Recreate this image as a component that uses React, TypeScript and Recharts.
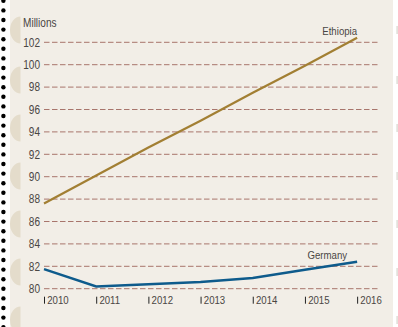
import React from 'react';
import { LineChart, Line, XAxis, YAxis, CartesianGrid } from 'recharts';

const years = [2010, 2011, 2012, 2013, 2014, 2015, 2016];
const ethiopia = [87.6, 90.1, 92.6, 95.0, 97.5, 99.9, 102.4];
const germany = [81.75, 80.2, 80.4, 80.6, 80.95, 81.7, 82.4];
const yTicks = [80, 82, 84, 86, 88, 90, 92, 94, 96, 98, 100, 102];
const seriesNames = ['Ethiopia', 'Germany'];
const unitLabel = 'Millions';

const data = years.map((y, i) => ({ year: y, Ethiopia: ethiopia[i], Germany: germany[i] }));

const FONT = "'Liberation Sans', Arial, sans-serif";
const TEXT = '#4a4644';
const SX = 0.84;

const NText = ({ x, y, anchor = 'start', size = 12, children }: any) => (
  <text
    transform={`translate(${x} ${y}) scale(${SX} 1)`}
    textAnchor={anchor}
    fontFamily={FONT}
    fontSize={size}
    fill={TEXT}
  >
    {children}
  </text>
);

const YTick = (p: any) => (
  <NText x={p.x - 4} y={p.y + 4.2} anchor="end" size={12}>
    {p.payload.value}
  </NText>
);

const XTick = (p: any) => (
  <g>
    <line x1={p.x + 0.5} x2={p.x + 0.5} y1={p.y + 8} y2={p.y + 15} stroke="#222" strokeWidth={1} />
    <NText x={p.x + 3.2} y={p.y + 15} size={11.5}>
      {p.payload.value}
    </NText>
  </g>
);

const makeLabel = (name: string, dx: number, dy: number) => (p: any) => {
  if (p.index !== years.length - 1) return null;
  return (
    <NText x={p.x + dx} y={p.y + dy} anchor="end" size={11.5}>
      {name}
    </NText>
  );
};

const holes = [30, 80, 128, 176, 224, 272, 320];
const dots = Array.from({ length: 35 }, (_, i) => 0.8 + i * 9.6);

export default function App() {
  return (
    <div style={{ position: 'absolute', left: 0, top: 0, width: 398, height: 327, background: '#fff' }}>
      <svg width={398} height={327} style={{ position: 'absolute', left: 0, top: 0 }}>
        <rect x={10} y={0} width={383} height={327} fill="#f2eee7" />
        {holes.map((cy) => (
          <path key={'h' + cy} d={`M 20.5 ${cy - 13.5} A 10.5 13.5 0 0 0 20.5 ${cy + 13.5} Z`} fill="#e4dccb" />
        ))}
        {holes.map((cy) => (
          <rect key={'r' + cy} x={396.5} y={cy - 4} width={1.2} height={8} fill="#d8d4cc" />
        ))}
        {dots.map((cy) => (
          <circle key={'d' + cy} cx={3.4} cy={cy} r={2.2} fill="#000" />
        ))}
        <NText x={23} y={26.5} size={12}>{unitLabel}</NText>
      </svg>
      <div style={{ position: 'absolute', left: 0, top: 0 }}>
        <LineChart width={398} height={327} data={data} margin={{ top: 31.1, right: 20, bottom: 8.3, left: 0 }}>
          <CartesianGrid
            horizontal
            vertical={false}
            horizontalValues={yTicks}
            stroke="#a8756c"
            strokeDasharray="5.5 2.5"
          />
          <XAxis
            dataKey="year"
            type="number"
            domain={[2010, 2016.4]}
            ticks={years}
            axisLine={false}
            tickLine={false}
            tickSize={0}
            tickMargin={0}
            height={30}
            tick={XTick}
            interval={0}
          />
          <YAxis
            type="number"
            domain={[80, 103]}
            ticks={yTicks}
            axisLine={false}
            tickLine={false}
            tickSize={0}
            tickMargin={0}
            width={44}
            tick={YTick}
            interval={0}
          />
          <Line
            dataKey={seriesNames[0]}
            stroke="#a27f33"
            strokeWidth={2.2}
            dot={false}
            isAnimationActive={false}
            type="linear"
            label={makeLabel(seriesNames[0], 0, -3)}
          />
          <Line
            dataKey={seriesNames[1]}
            stroke="#0e5b8c"
            strokeWidth={2.5}
            dot={false}
            isAnimationActive={false}
            type="linear"
            label={makeLabel(seriesNames[1], -10, -3)}
          />
        </LineChart>
      </div>
    </div>
  );
}
